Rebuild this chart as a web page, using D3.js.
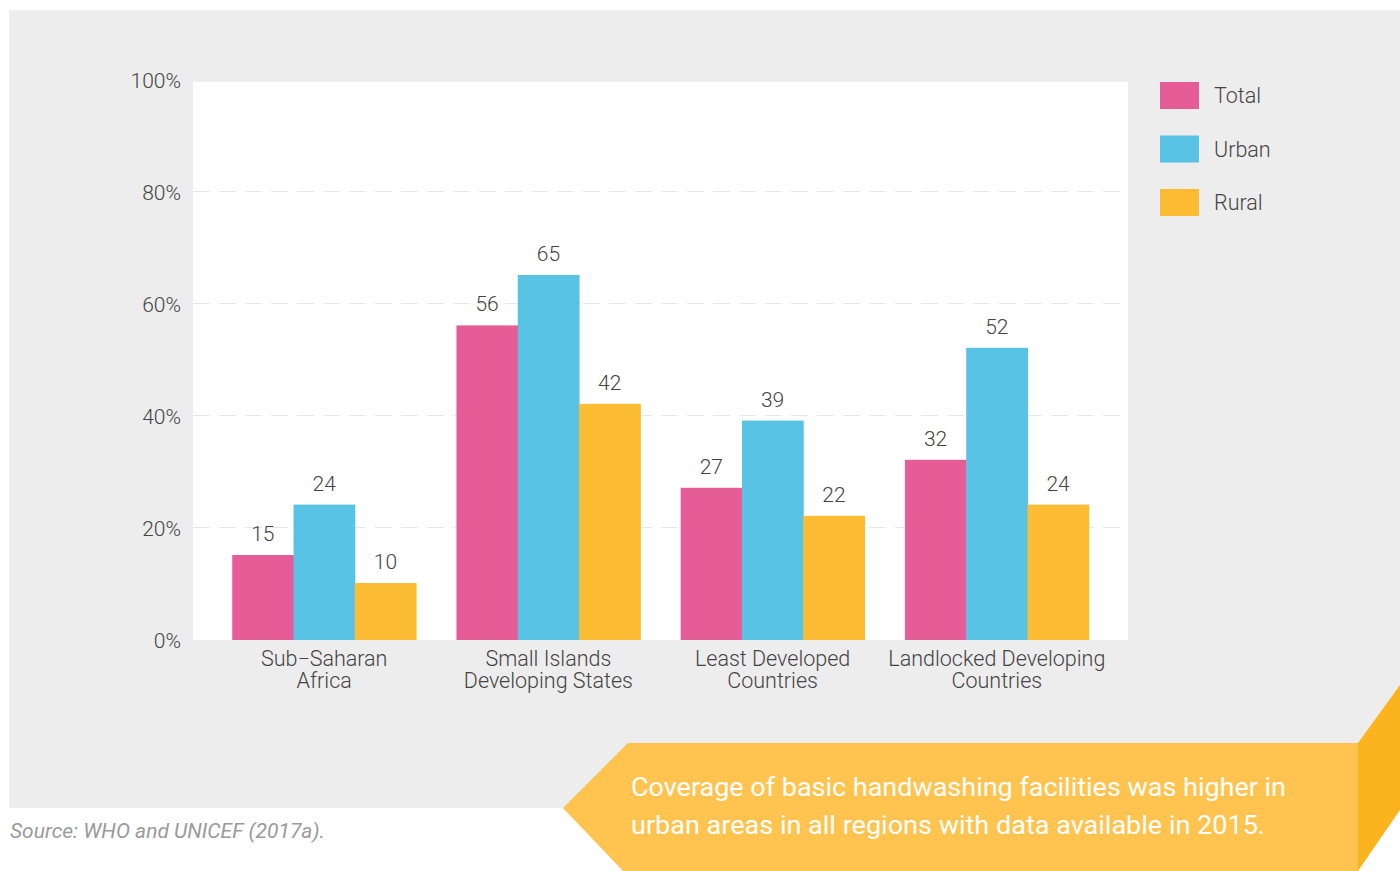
<!DOCTYPE html>
<html><head><meta charset="utf-8">
<script src="https://cdn.jsdelivr.net/npm/d3@7"></script>
<style>html,body{margin:0;padding:0;background:#fff;}svg{display:block;}</style>
</head><body>
<svg id="chart" width="1400" height="871"></svg>
<script>
const categories = [["Sub\u2212Saharan","Africa"],["Small Islands","Developing States"],["Least Developed","Countries"],["Landlocked Developing","Countries"]];
const seriesNames = ["Total","Urban","Rural"];
const totalValues = [15,56,27,32];
const urbanValues = [24,65,39,52];
const ruralValues = [10,42,22,24];
const yTicks = [0,20,40,60,80,100];
const colors = ["#e65c97","#58c3e5","#fcbc33"];
const sourceText = "Source: WHO and UNICEF (2017a).";
const calloutLines = ["Coverage of basic handwashing facilities was higher in","urban areas in all regions with data available in 2015."];

const series = [totalValues, urbanValues, ruralValues];
const svg = d3.select("#chart");
const font = "Roboto, 'Open Sans', sans-serif";

// background panel
svg.append("rect").attr("x",9).attr("y",10).attr("width",1391).attr("height",798).attr("fill","#ededed");

const x0 = d3.scaleBand().domain(d3.range(categories.length)).range([193,1128]).paddingInner(0.18).paddingOuter(0.175);
const x1 = d3.scaleBand().domain(d3.range(seriesNames.length)).range([0,x0.bandwidth()]);
const y = d3.scaleLinear().domain([0,100]).range([639,79]);

// plot area
svg.append("rect").attr("x",193).attr("y",82).attr("width",935).attr("height",640-82).attr("fill","#fff");

// gridlines
svg.append("g").selectAll("line").data(yTicks.filter(d=>d>0 && d<100)).join("line")
  .attr("x1",193).attr("x2",1128).attr("y1",d=>y(d)+0.5).attr("y2",d=>y(d)+0.5)
  .attr("stroke","#e3e8ef").attr("stroke-width",1).attr("stroke-dasharray","17,9");

// y axis labels
const yAxis = d3.axisLeft(y).tickValues(yTicks).tickFormat(d=>d+"%").tickSize(0).tickPadding(12);
const gy = svg.append("g").attr("transform","translate(193,0)").call(yAxis);
gy.select(".domain").remove();
gy.selectAll("text").attr("font-family",font).attr("font-weight",300).attr("font-size",21).attr("fill","#444").attr("dy","0.4em");

// bars
const groups = svg.append("g").selectAll("g").data(categories).join("g")
  .attr("transform",(d,i)=>`translate(${x0(i)},0)`);
groups.each(function(d,i){
  const g = d3.select(this);
  series.forEach((vals,s)=>{
    g.append("rect").attr("x",x1(s)).attr("width",x1.bandwidth()+0.5)
      .attr("y",y(vals[i])).attr("height",y(0)-y(vals[i])+1).attr("fill",colors[s]);
    g.append("text").attr("x",x1(s)+x1.bandwidth()/2).attr("y",y(vals[i])-14)
      .attr("text-anchor","middle").attr("font-family",font).attr("font-weight",300)
      .attr("font-size",21).attr("fill","#444").text(vals[i]);
  });
});

// x axis labels
const xAxis = d3.axisBottom(x0).tickSize(0).tickFormat("");
const gx = svg.append("g").attr("transform","translate(0,640)").call(xAxis);
gx.select(".domain").remove();
gx.selectAll(".tick").each(function(d){
  const t = d3.select(this).append("text").attr("text-anchor","middle")
    .attr("font-family",font).attr("font-weight",300).attr("font-size",21.5).attr("fill","#444");
  categories[d].forEach((line,k)=>{
    t.append("tspan").attr("x",0).attr("y",26+k*22).text(line);
  });
});

// legend
const lg = svg.append("g").selectAll("g").data(seriesNames).join("g")
  .attr("transform",(d,i)=>`translate(1160,${82+i*53.5})`);
lg.append("rect").attr("width",39).attr("height",27).attr("fill",(d,i)=>colors[i]);
lg.append("text").attr("x",54).attr("y",21).attr("font-family",font).attr("font-weight",300)
  .attr("font-size",21.5).attr("fill","#444").text(d=>d);

// source
svg.append("text").attr("x",10).attr("y",838).attr("font-family",font).attr("font-style","italic")
  .attr("font-size",21).attr("fill","#9a9a9a").text(sourceText);

// callout banner
svg.append("polygon").attr("points","1358,743 1400,685 1400,810 1358,871").attr("fill","#fbb41e");
svg.append("polygon").attr("points","628,743 1358,743 1358,871 623,871 563,808").attr("fill","#fec44f");
svg.append("g").selectAll("text").data(calloutLines).join("text")
  .attr("x",631).attr("y",(d,i)=>796+i*38).attr("font-family",font).attr("font-size",26)
  .attr("fill","#fff").attr("textLength",(d,i)=>i===0?655:634).attr("lengthAdjust","spacingAndGlyphs").text(d=>d);
</script>
</body></html>
